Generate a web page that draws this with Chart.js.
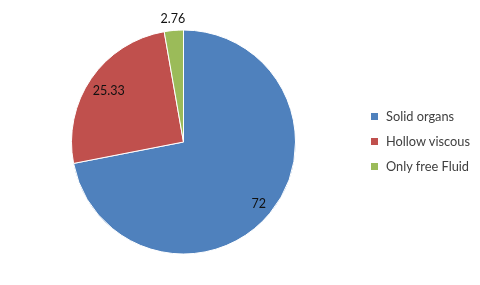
<!DOCTYPE html>
<html>
<head>
<meta charset="utf-8">
<script src="https://cdn.jsdelivr.net/npm/chart.js@4"></script>
<style>
  body { margin: 0; background: #fff; }
  #wrap { position: relative; width: 480px; height: 285px; }
  #legend { position: absolute; left: 371px; top: 108px; font-family: Lato, "Open Sans", sans-serif; font-size: 12.8px; color: #404040; }
  .item { height: 25px; display: flex; align-items: flex-start; white-space: nowrap; }
  .box { width: 7px; height: 7px; margin: 5px 8px 0 0; }
</style>
</head>
<body>
<div id="wrap">
  <canvas id="graph-canvas" width="480" height="285"></canvas>
  <div id="legend"></div>
</div>
<script>
const categories = ['Solid organs', 'Hollow viscous', 'Only free Fluid']
const values = [72, 25.33, 2.76]
const colors = ['#4F81BD', '#C0504D', '#9BBB59']

// value labels on the slices, small slices go outside
const sliceLabels = {
    id: 'sliceLabels',
    afterDatasetsDraw(chart) {
        const ctx = chart.ctx
        const meta = chart.getDatasetMeta(0)
        const total = values.reduce((p, c) => p + c, 0)
        ctx.save()
        ctx.font = '12.5px Lato, "Open Sans", sans-serif'
        ctx.fillStyle = '#111111'
        ctx.textAlign = 'center'
        ctx.textBaseline = 'middle'
        meta.data.forEach((arc, i) => {
            const share = values[i] / total
            const mid = (arc.startAngle + arc.endAngle) / 2
            let r = arc.outerRadius * 0.87
            if (share < 0.05) r = arc.outerRadius + 11
            else if (share < 0.5) r = arc.outerRadius * 0.81
            ctx.fillText(String(values[i]), arc.x + Math.cos(mid) * r, arc.y + Math.sin(mid) * r)
        })
        ctx.restore()
    }
}

const chart = new Chart(document.getElementById('graph-canvas'), {
    type: 'pie',
    data: {
        labels: categories,
        datasets: [{
            data: values,
            backgroundColor: colors,
            borderColor: '#ffffff',
            borderWidth: 1
        }]
    },
    options: {
        responsive: false,
        animation: false,
        layout: { padding: { left: 71, right: 184, top: 29, bottom: 30 } },
        plugins: { legend: { display: false }, tooltip: { enabled: false } }
    },
    plugins: [sliceLabels]
})

const legend = document.getElementById('legend')
categories.forEach((c, i) => {
    legend.innerHTML += '<div class="item"><div class="box" style="background:' + colors[i] + '"></div><span>' + c + '</span></div>'
})
</script>
</body>
</html>
